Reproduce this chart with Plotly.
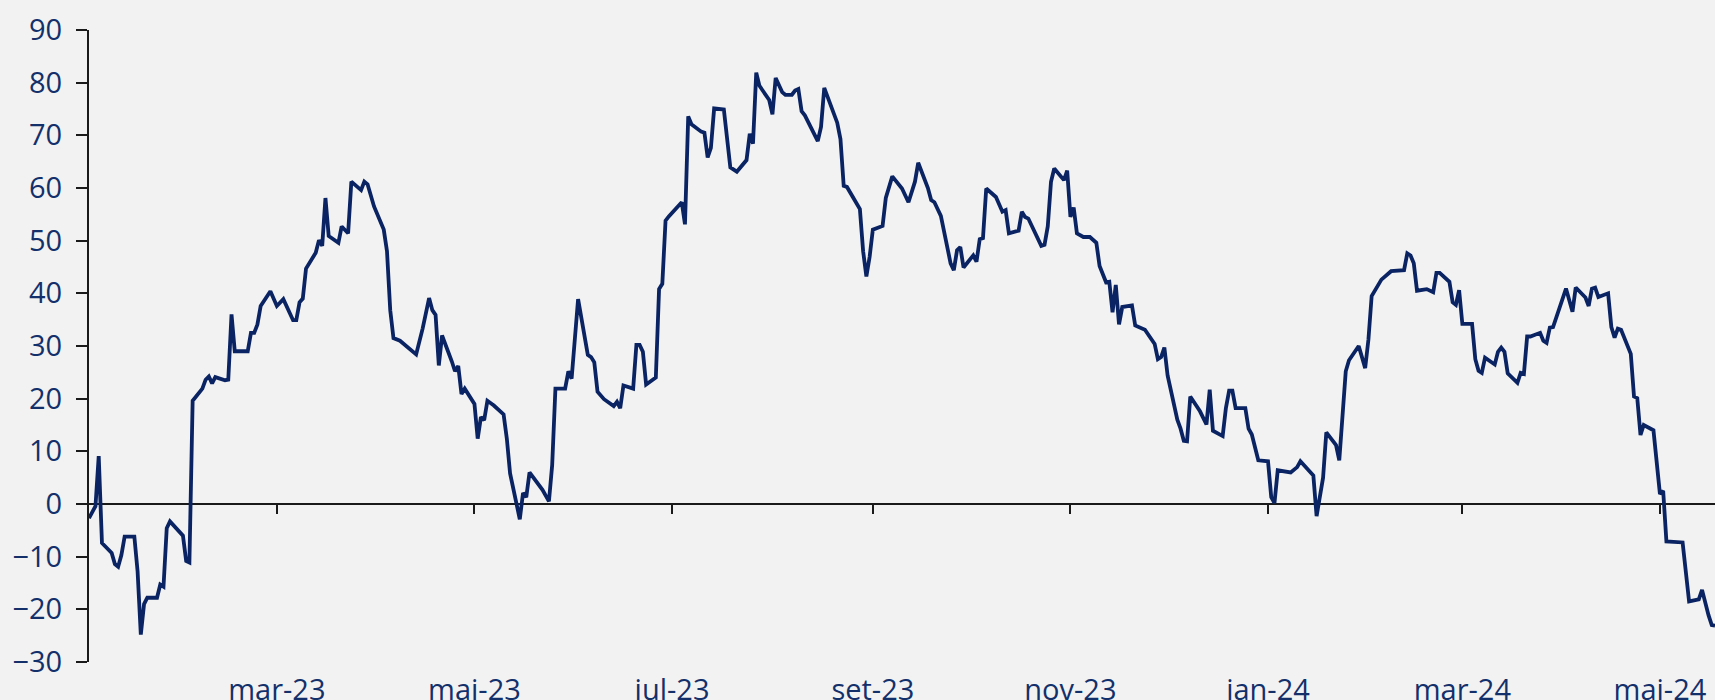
import pandas as pd
import plotly.graph_objects as go

# ---- data ----
base_date = "2023-01-01"

# days elapsed since base_date
day_index = [
    1, 3, 4, 5, 8, 9, 10, 11, 12, 15, 16, 17, 18, 19, 22, 23, 24, 25, 26, 30,
    31, 32, 33, 36, 37, 38, 39, 40, 43, 44, 45, 46, 50, 51, 52, 53, 54,
    57, 59, 61, 64, 65, 66, 67, 68, 71, 72, 73, 74, 75, 78, 79, 81, 82, 85,
    86, 87, 89, 92, 93, 94, 95, 97, 100, 102, 104, 106, 107, 108, 109, 110,
    113, 114, 115, 116, 117, 120, 121, 122, 123, 124, 126, 129, 130, 131,
    134, 135, 136, 137, 141, 143, 144, 145, 148, 149, 150, 152, 155, 156,
    157, 158, 160, 163, 164, 165, 166, 169, 170, 171, 172, 173, 176, 177,
    178, 179, 180, 184, 185, 186, 187, 190, 191, 192, 193, 194, 197, 198,
    199, 201, 204, 205, 206, 207, 208, 211, 212, 213, 215, 216, 218, 219,
    220, 221, 222, 226, 227, 228, 230, 232, 233, 234, 235, 237, 239, 240,
    241, 242, 243, 246, 247, 249, 252, 254, 256, 257, 260, 261, 262, 264,
    266, 267, 268, 269, 270, 271, 274, 275, 276, 277, 278, 281, 283, 284,
    285, 288, 289, 290, 291, 295, 296, 297, 298, 299, 302, 303, 304, 305,
    306, 308, 310, 312, 313, 315, 316, 317, 318, 319, 320, 323, 324, 327,
    330, 331, 332, 333, 334, 337, 338, 339, 340, 341, 344, 346, 347, 348,
    351, 352, 353, 354, 355, 358, 359, 360, 362, 365, 366, 367, 368, 372,
    374, 375, 379, 380, 382, 383, 386, 387, 389, 390, 393, 395, 396, 397,
    400, 401, 403, 407, 408, 409, 410, 411, 414, 416, 417, 418, 421, 422,
    423, 424, 425, 428, 429, 430, 431, 432, 435, 436, 437, 438, 439, 442,
    443, 444, 445, 446, 449, 450, 451, 452, 453, 457, 459, 460, 463, 464,
    465, 466, 467, 470, 471, 472, 473, 474, 477, 478, 479, 480, 481, 484,
    486, 487, 488, 493, 495, 498, 499, 501, 502, 503,
]

values = [
    -2.7, -0.4, 9.1, -7.4, -9.3, -11.4, -11.9, -9.7, -6.2, -6.2, -12.8, -24.8, -19.0, -17.8, -17.8, -15.3, -15.7, -4.6, -3.3, -6.0,
    -10.8, -11.1, 19.6, 21.9, 23.6, 24.2, 22.9, 24.1, 23.5, 23.6, 36.0, 29.0, 29.0, 32.5, 32.5, 34.1, 37.6,
    40.4, 37.6, 38.9, 34.9, 34.9, 38.3, 39.0, 44.7, 47.7, 50.1, 49.0, 58.1, 50.9, 49.6, 52.7, 51.4, 61.2, 59.6,
    61.2, 60.7, 56.5, 52.1, 48.0, 36.8, 31.5, 31.0, 29.4, 28.4, 33.3, 39.1, 36.8, 35.9, 26.3, 32.0,
    27.1, 25.2, 26.2, 20.9, 21.9, 19.0, 12.4, 16.5, 15.9, 19.6, 18.7, 17.0, 12.4, 5.8,
    -2.9, 2.1, 1.3, 6.0, 2.7, 0.5, 7.4, 21.9, 21.9, 25.2, 23.8, 38.9, 28.3, 27.9,
    26.9, 21.3, 19.9, 18.6, 19.4, 18.2, 22.5, 21.9, 30.2, 30.2, 28.9, 22.7, 24.0, 40.8,
    41.8, 53.8, 54.6, 57.3, 53.1, 73.6, 72.1, 70.7, 70.5, 65.8, 67.6, 75.1, 74.9, 68.6,
    63.9, 63.1, 65.3, 70.3, 68.4, 81.9, 79.4, 76.7, 74.0, 80.9, 78.2, 77.7, 77.7, 78.5,
    78.8, 74.6, 73.8, 68.9, 71.6, 79.0, 75.6, 72.4, 69.3, 60.4, 60.2, 58.1, 56.0, 48.0,
    43.2, 46.9, 52.1, 52.8, 58.1, 62.2, 59.9, 57.3, 61.2, 64.8, 60.0, 57.7, 57.3, 54.7,
    49.2, 45.7, 44.4, 48.2, 48.8, 44.9, 47.2, 46.0, 50.3, 50.5, 59.9, 58.3, 55.5, 55.8,
    51.4, 51.9, 55.5, 54.5, 54.2, 49.0, 49.2, 52.7, 61.2, 63.7, 61.5, 63.3, 54.5, 56.3,
    51.4, 50.7, 50.7, 49.6, 45.2, 42.1, 42.2, 36.4, 41.6, 34.1, 37.4, 37.7, 33.9, 33.1,
    30.4, 27.5, 27.9, 29.7, 24.4, 16.0, 14.3, 12.0, 11.9, 20.4, 17.6, 15.1, 21.7, 13.9,
    12.9, 18.2, 21.5, 21.5, 18.2, 18.2, 14.3, 13.2, 8.3, 8.1, 1.3, 0.2, 6.4, 6.0,
    7.0, 8.1, 5.4, -2.3, 5.0, 13.6, 11.2, 8.3, 25.2, 27.3, 30.0, 25.8, 31.2, 39.5,
    42.6, 43.1, 44.2, 44.4, 47.6, 47.2, 45.7, 40.5, 40.8, 40.2, 43.9, 43.9, 42.2, 38.3,
    37.8, 40.6, 34.2, 34.2, 27.5, 25.3, 24.9, 27.8, 26.5, 28.9, 29.7, 28.9, 24.8, 23.0,
    24.9, 24.7, 31.8, 31.8, 32.5, 31.0, 30.6, 33.5, 33.6, 40.9, 36.5, 41.1, 39.2, 37.6,
    40.9, 41.1, 39.3, 40.0, 33.6, 31.6, 33.3, 33.1, 28.5, 20.4, 20.1, 13.1, 15.0, 14.0,
    1.9, 2.5, -7.1, -7.3, -18.5, -18.1, -16.3, -21.1, -23.0, -23.1,
]

tick_dates = ["2023-03-01", "2023-05-01", "2023-07-01", "2023-09-01",
              "2023-11-01", "2024-01-01", "2024-03-01", "2024-05-01"]
tick_labels = ["mar-23", "mai-23", "jul-23", "set-23",
               "nov-23", "jan-24", "mar-24", "mai-24"]
y_ticks = [-30, -20, -10, 0, 10, 20, 30, 40, 50, 60, 70, 80, 90]

# ---- figure ----
dates = (pd.Timestamp(base_date) + pd.to_timedelta(day_index, unit="D")).strftime("%Y-%m-%d").tolist()
x_range = [dates[0], dates[-1]]

LINE = "#0a2463"
TEXT = "#13306b"
AXIS = "#1a1a1a"
BG = "#f2f2f2"
FONT = "Open Sans"
FSIZE = 29

fig = go.Figure()
fig.add_trace(go.Scatter(
    x=dates, y=values, mode="lines",
    line=dict(color=LINE, width=3.8),
    hoverinfo="skip", showlegend=False,
))

fig.update_layout(
    width=1715, height=700,
    margin=dict(l=89, r=0, t=30, b=38, autoexpand=False),
    paper_bgcolor=BG, plot_bgcolor=BG,
    showlegend=False,
    font=dict(family=FONT, size=FSIZE, color=TEXT),
    # x axis drawn along the zero level: the axis line is the zero line,
    # tick marks hang from it and the labels sit at the bottom of the chart
    xaxis=dict(
        type="date", range=x_range,
        anchor="free", position=0.25,
        showline=True, linecolor=AXIS, linewidth=1.6,
        ticks="outside", ticklen=9, tickwidth=2, tickcolor=AXIS,
        tickvals=tick_dates, ticktext=tick_labels,
        ticklabelstandoff=151, automargin=False,
        tickfont=dict(family=FONT, size=FSIZE, color=TEXT),
        showgrid=False, zeroline=False, layer="below traces",
    ),
    yaxis=dict(
        range=[-30, 90], tickvals=y_ticks,
        ticks="outside", ticklen=11, tickwidth=2, tickcolor=AXIS,
        showline=True, linecolor=AXIS, linewidth=2,
        showgrid=False, zeroline=False, layer="below traces",
        ticklabelstandoff=8, automargin=False,
        tickfont=dict(family=FONT, size=FSIZE, color=TEXT),
    ),
)

# remove the browser's default 8 px page margin so the figure fills the window
fig.write_html(
    "out.html",
    config={"displayModeBar": False},
    post_script="document.body.style.margin='0';",
)
